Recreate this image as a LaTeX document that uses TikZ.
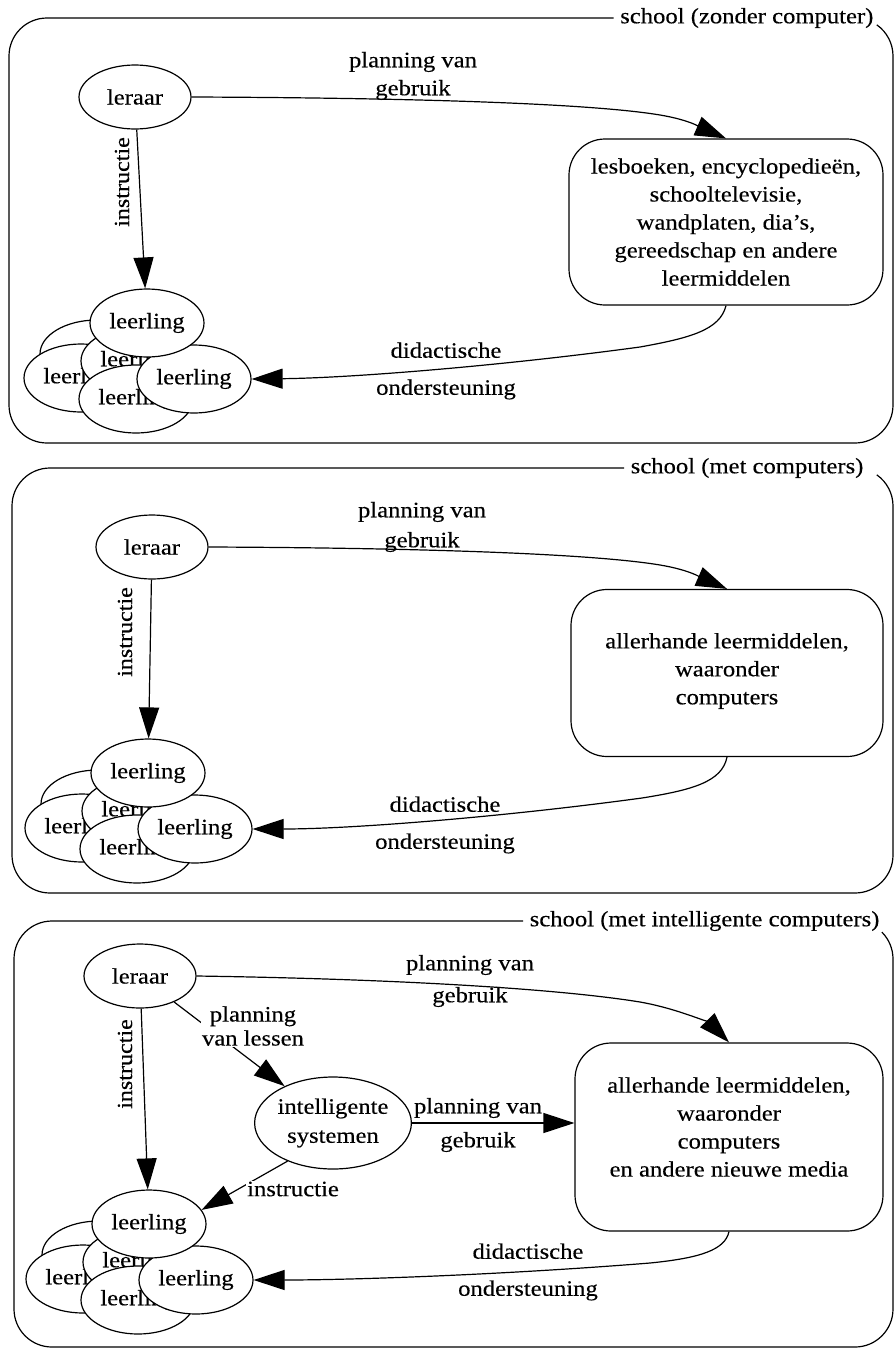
\documentclass[tikz,border=0pt]{standalone}
\usepackage{fontspec}
\setmainfont{Liberation Serif}[FakeStretch=1.12,FakeBold=0.3]
\usetikzlibrary{shapes.geometric,arrows.meta}
\newcommand{\leercluster}[3]{%
  \node[ell] (#1back) at (#2-50,#3+31) {};
  \node[ell] (#1left) at (#2-66,#3+55) {leerling};
  \node[ell] (#1mid) at (#2-9,#3+38) {leerling};
  \node[ell] (#1bot) at (#2-11,#3+76) {leerling};
  \node[ell] (#1right) at (#2+47,#3+56) {leerling};
  \node[ell] (#1top) at (#2,#3) {leerling};
}
\begin{document}
\begin{tikzpicture}[x=1pt,y=-1pt,line width=1.2pt,
  every node/.style={font=\fontsize{22}{28}\selectfont},
  ell/.style={ellipse,draw,fill=white,minimum width=114pt,minimum height=68pt,inner sep=0pt},
  lera/.style={ellipse,draw,fill=white,minimum width=112pt,minimum height=64pt,inner sep=0pt},
  matbox/.style={draw,rounded corners=36pt,inner sep=0pt},
  mattext/.style={align=center,inner sep=0pt},
  arr/.style={-{Triangle[length=31pt,width=20pt]}},
  lab/.style={align=center,inner sep=1pt,font=\fontsize{22}{34}\selectfont},
  dlab/.style={align=center,inner sep=1pt,font=\fontsize{22}{37}\selectfont},
  vlab/.style={rotate=90,inner sep=1pt,font=\fontsize{21.5}{26}\selectfont},
  frametitle/.style={anchor=east,inner sep=6pt},
]
\useasboundingbox (0,0) rectangle (895,1349);

% ---------------- panel 1 ----------------
\node[frametitle] (s1) at (880,18) {school (zonder computer)};
\draw (s1.west) -- (47,18) arc[start angle=90,end angle=180,radius=38pt]
  -- (9,405) arc[start angle=180,end angle=270,radius=38pt]
  -- (855,443) arc[start angle=270,end angle=360,radius=38pt]
  -- (893,56) arc[start angle=0,end angle=55,radius=38pt];

\node[lera] (lr1) at (135,97) {leraar};
\node[matbox,minimum width=314pt,minimum height=166pt] (mb1) at (726,222) {};
\node[mattext] (mt1) at (726,222) {lesboeken, encyclopedieën,\\schooltelevisie,\\wandplaten, dia’s,\\gereedschap en andere\\leermiddelen};
\leercluster{a}{147}{323}

\draw[arr] (lr1) -- (atop);
\draw[arr] (lr1.east) .. controls (450,98) and (600,105) .. (660,115)
  .. controls (690,120) and (702,128) .. (mb1.north);
\draw[arr] (mb1.south) .. controls (720,330) and (690,338) .. (640,347)
  .. controls (500,366) and (350,378) .. (aright.east);
\node[lab,font=\fontsize{22}{28}\selectfont] (p1) at (413,76) {planning van\\gebruik};
\node[dlab] (d1) at (446,371) {didactische\\ondersteuning};
\node[vlab] (i1) at (122,182) {instructie};

% ---------------- panel 2 ----------------
\node[frametitle] (s2) at (870,468) {school (met computers)};
\draw (s2.west) -- (50,468) arc[start angle=90,end angle=180,radius=38pt]
  -- (12,855) arc[start angle=180,end angle=270,radius=38pt]
  -- (855,893) arc[start angle=270,end angle=360,radius=38pt]
  -- (893,506) arc[start angle=0,end angle=55,radius=38pt];

\node[lera] (lr2) at (152,547) {leraar};
\node[matbox,minimum width=312pt,minimum height=167pt] (mb2) at (727,673) {};
\node[mattext] (mt2) at (727,671) {allerhande leermiddelen,\\waaronder\\computers};
\leercluster{b}{148}{773}

\draw[arr] (lr2) -- (btop);
\draw[arr] (lr2.east) .. controls (450,548) and (600,555) .. (660,565)
  .. controls (690,570) and (702,578) .. (mb2.north);
\draw[arr] (mb2.south) .. controls (722,782) and (692,790) .. (642,798)
  .. controls (502,817) and (352,829) .. (bright.east);
\node[lab,font=\fontsize{22}{30}\selectfont] (p2) at (422,527) {planning van\\gebruik};
\node[dlab] (d2) at (445,825) {didactische\\ondersteuning};
\node[vlab] (i2) at (125,632) {instructie};

% ---------------- panel 3 ----------------
\node[frametitle] (s3) at (886,921) {school (met intelligente computers)};
\draw (s3.west) -- (52,921) arc[start angle=90,end angle=180,radius=38pt]
  -- (14,1309) arc[start angle=180,end angle=270,radius=38pt]
  -- (855,1347) arc[start angle=270,end angle=360,radius=38pt]
  -- (893,959) arc[start angle=0,end angle=45,radius=38pt];

\node[lera] (lr3) at (140,976) {leraar};
\node[ell,minimum width=155pt,minimum height=92pt,align=center,font=\fontsize{22}{29}\selectfont] (is3) at (333,1123) {intelligente\\systemen};
\node[matbox,minimum width=308pt,minimum height=188pt] (mb3) at (729,1137) {};
\node[mattext] (mt3) at (729,1127) {allerhande leermiddelen,\\waaronder\\computers\\en andere nieuwe media};
\leercluster{c}{149}{1224}

\draw[arr] (lr3) -- (ctop);
\draw[arr] (lr3.east) .. controls (400,979) and (560,989) .. (640,1002)
  .. controls (680,1009) and (712,1025) .. (mb3.north);
\draw[arr] (lr3) -- (is3);
\draw[arr] (is3.east) -- (is3.east -| mb3.west);
\draw[arr] (is3.220) -- (ctop.15);
\draw[arr] (mb3.south) .. controls (725,1250) and (700,1258) .. (650,1263)
  .. controls (500,1275) and (350,1280) .. (cright.east);
\node[lab,font=\fontsize{22}{32}\selectfont] (p3) at (470,981) {planning van\\gebruik};
\node[lab,fill=white,font=\fontsize{22}{24}\selectfont] (pl3) at (253,1026) {planning\\van lessen};
\node[lab] (q3) at (478,1125) {planning van\\gebruik};
\node[lab,fill=white] (n3) at (293,1189) {instructie};
\node[dlab] (d3) at (528,1272) {didactische\\ondersteuning};
\node[vlab] (i3) at (125,1064) {instructie};
\end{tikzpicture}
\end{document}
